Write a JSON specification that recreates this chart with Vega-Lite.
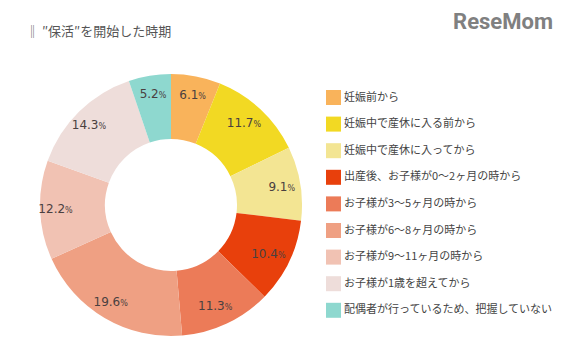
{
  "$schema": "https://vega.github.io/schema/vega-lite/v6.json",
  "width": 282,
  "height": 280,
  "autosize": {"type": "none"},
  "padding": {"left": 30, "top": 65, "right": 257, "bottom": 12},
  "background": "white",
  "config": {"view": {"fill": "#f5f2e7", "stroke": null}},
  "title": {
    "text": "‖ ″保活″を開始した時期",
    "anchor": "start",
    "frame": "group",
    "font": "Noto Sans CJK JP",
    "fontSize": 13,
    "fontWeight": "normal",
    "color": "#555555",
    "baseline": "bottom",
    "offset": -40,
    "dx": -4
  },
  "data": {
    "values": [
      {"o": 1, "cat": "妊娠前から", "pct": 6.1},
      {"o": 2, "cat": "妊娠中で産休に入る前から", "pct": 11.7},
      {"o": 3, "cat": "妊娠中で産休に入ってから", "pct": 9.1},
      {"o": 4, "cat": "出産後、お子様が0～2ヶ月の時から", "pct": 10.4},
      {"o": 5, "cat": "お子様が3～5ヶ月の時から", "pct": 11.3},
      {"o": 6, "cat": "お子様が6～8ヶ月の時から", "pct": 19.6},
      {"o": 7, "cat": "お子様が9～11ヶ月の時から", "pct": 12.2},
      {"o": 8, "cat": "お子様が1歳を超えてから", "pct": 14.3},
      {"o": 9, "cat": "配偶者が行っているため、把握していない", "pct": 5.2}
    ]
  },
  "encoding": {
    "theta": {"field": "pct", "type": "quantitative", "stack": true},
    "order": {"field": "o", "type": "quantitative"}
  },
  "layer": [
    {
      "mark": {"type": "arc", "innerRadius": 66, "outerRadius": 131, "strokeWidth": 0},
      "encoding": {
        "color": {
          "field": "cat",
          "type": "nominal",
          "scale": {
            "domain": ["妊娠前から", "妊娠中で産休に入る前から", "妊娠中で産休に入ってから", "出産後、お子様が0～2ヶ月の時から", "お子様が3～5ヶ月の時から", "お子様が6～8ヶ月の時から", "お子様が9～11ヶ月の時から", "お子様が1歳を超えてから", "配偶者が行っているため、把握していない"],
            "range": ["#f9b35b", "#f2d923", "#f3e593", "#e8400c", "#ec7b58", "#efa083", "#f1c2b3", "#eeddda", "#8ed8cf"]
          },
          "legend": {
            "orient": "none",
            "legendX": 296,
            "legendY": -53,
            "padding": 0,
            "title": "ReseMom",
            "titleFont": "Roboto",
            "titleFontSize": 22,
            "titleFontWeight": "bold",
            "titleColor": "#808080",
            "titleAnchor": "end",
            "titlePadding": 56,
            "symbolType": "square",
            "symbolSize": 225,
            "symbolStrokeWidth": 0,
            "labelFont": "Noto Sans CJK JP",
            "labelFontSize": 11,
            "labelColor": "#444444",
            "labelOffset": 3,
            "labelLimit": 300,
            "rowPadding": 11.6
          }
        }
      }
    },
    {
      "mark": {"type": "text", "radius": 112, "align": "right", "baseline": "alphabetic", "dx": 6, "dy": 4, "font": "DejaVu Sans", "fontSize": 12, "color": "#4a4040"},
      "encoding": {
        "text": {"field": "pct", "type": "quantitative", "format": ".1f"},
        "detail": {"field": "cat", "type": "nominal"}
      }
    },
    {
      "mark": {"type": "text", "radius": 112, "align": "left", "baseline": "alphabetic", "dx": 6, "dy": 4, "font": "DejaVu Sans", "fontSize": 8, "color": "#4a4040"},
      "encoding": {
        "text": {"value": "%"},
        "detail": {"field": "cat", "type": "nominal"}
      }
    }
  ]
}
